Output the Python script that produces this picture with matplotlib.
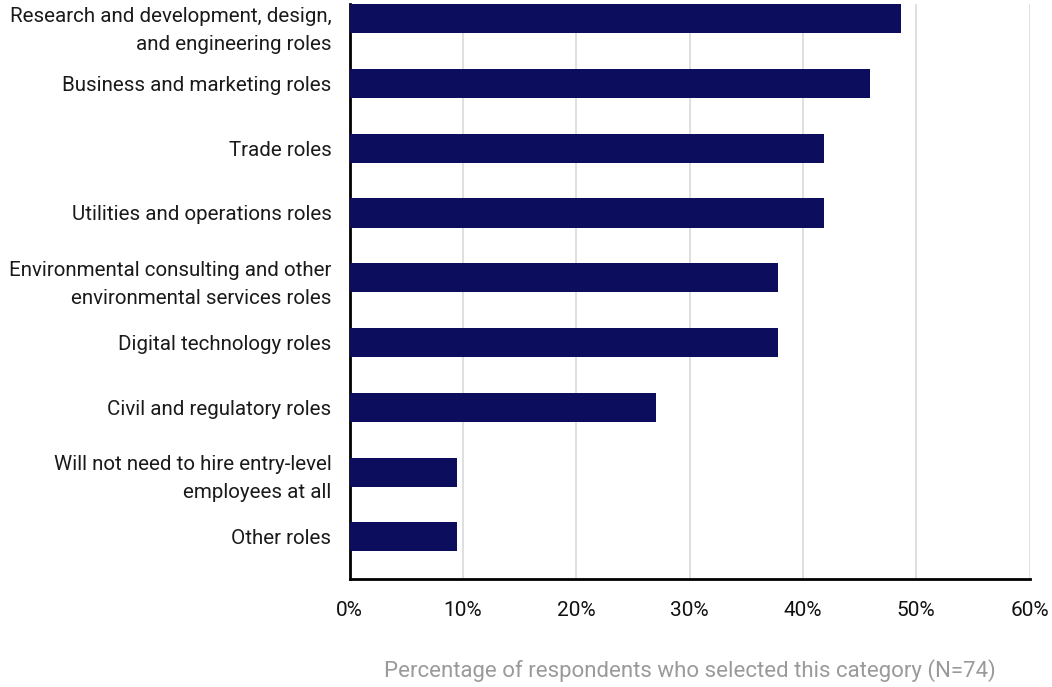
import numpy as np
import matplotlib.pyplot as plt
import matplotlib.transforms as mtransforms
from matplotlib.ticker import FuncFormatter

plt.rcParams['font.family'] = ['Roboto', 'DejaVu Sans']

roles = [
    "Research and development, design,\nand engineering roles",
    "Business and marketing roles",
    "Trade roles",
    "Utilities and operations roles",
    "Environmental consulting and other\nenvironmental services roles",
    "Digital technology roles",
    "Civil and regulatory roles",
    "Will not need to hire entry-level\nemployees at all",
    "Other roles",
]
# share of the 74 respondents, in percent
counts = [36, 34, 31, 31, 28, 28, 20, 7, 7]
n_resp = 74
pct = [100.0 * c / n_resp for c in counts]

fig = plt.figure(figsize=(10.52, 6.87), dpi=100)
ax = fig.add_axes([349.5 / 1052, 108 / 687, (1029.5 - 349.5) / 1052, 575 / 687])

y = np.arange(len(roles))
ax.barh(y, pct, height=0.45, color='#0d0d5e', zorder=3)

ax.set_xlim(0, 60)
ax.set_ylim(8.65, -0.225)
ax.set_xticks(np.arange(0, 61, 10))
ax.xaxis.set_major_formatter(FuncFormatter(lambda v, p: f"{v:.0f}%"))
ax.set_yticks(y)
ax.set_yticklabels(roles, fontsize=14.8, color='#1a1a1a', linespacing=1.62)
ax.tick_params(axis='y', length=0, pad=13)
ax.tick_params(axis='x', length=0, pad=16, labelsize=15, labelcolor='#111111')

# top label would run off the figure, nudge it down
first = ax.get_yticklabels()[0]
first.set_transform(first.get_transform() +
                    mtransforms.ScaledTranslation(0, -4 / 72, fig.dpi_scale_trans))

ax.grid(axis='x', color='#d9d9d9', linewidth=1.2, zorder=0)
for s in ['top', 'right']:
    ax.spines[s].set_visible(False)
for s in ['left', 'bottom']:
    ax.spines[s].set_linewidth(2)
    ax.spines[s].set_color('#000000')

ax.set_xlabel("Percentage of respondents who selected this category (N=74)",
              fontsize=16, color='#9a9a9a')
ax.xaxis.set_label_coords(0.5, -0.140)

fig.savefig("out.png", dpi=100)
